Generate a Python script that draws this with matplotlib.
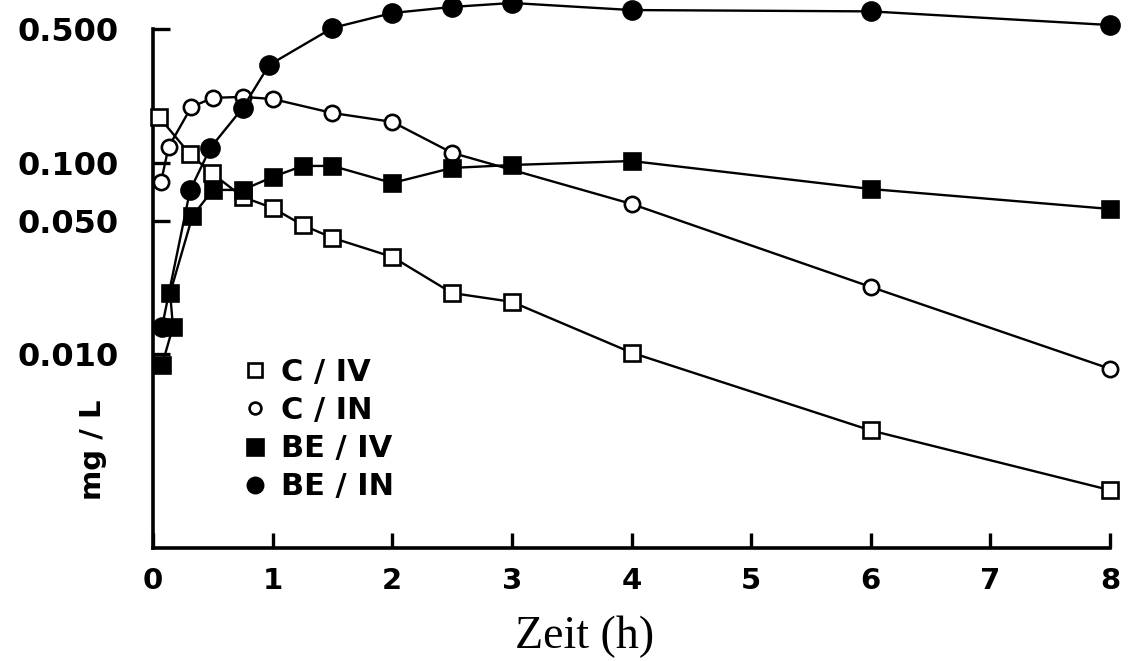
import matplotlib
matplotlib.use("Agg")
import matplotlib.pyplot as plt
from matplotlib.lines import Line2D
from matplotlib.ticker import NullLocator

# values (time in h, concentration in mg/L)
t_c_iv = [0.05, 0.31, 0.49, 0.75, 1.0, 1.25, 1.5, 2, 2.5, 3, 4, 6, 8]
c_iv = [0.174, 0.111, 0.0887, 0.0664, 0.0582, 0.0474, 0.0406, 0.0323,
        0.0209, 0.0188, 0.0102, 0.0040, 0.00195]

t_c_in = [0.067, 0.13, 0.32, 0.5, 0.75, 1.0, 1.5, 2, 2.5, 4, 6, 8]
c_in = [0.0796, 0.121, 0.196, 0.219, 0.2215, 0.216, 0.1825, 0.164,
        0.113, 0.0611, 0.0225, 0.0084]

t_be_iv = [0.075, 0.167, 0.143, 0.33, 0.5, 0.75, 1.0, 1.25, 1.5, 2, 2.5, 3, 4, 6, 8]
be_iv = [0.0088, 0.0139, 0.0209, 0.0528, 0.0723, 0.0723, 0.0845, 0.0965,
         0.0965, 0.0786, 0.0942, 0.0976, 0.1024, 0.0731, 0.0575]

t_be_in = [0.075, 0.31, 0.48, 0.75, 0.97, 1.5, 2, 2.5, 3, 4, 6, 8]
be_in = [0.0139, 0.072, 0.120, 0.194, 0.325, 0.508, 0.608, 0.654,
         0.686, 0.63, 0.62, 0.526]

labels = ["C / IV", "C / IN", "BE / IV", "BE / IN"]
x_ticks = [0, 1, 2, 3, 4, 5, 6, 7, 8]
y_ticks = [0.01, 0.05, 0.1, 0.5]
y_ticklabels = ["0.010", "0.050", "0.100", "0.500"]

fig = plt.figure(figsize=(11.28, 6.61), dpi=100)
ax = fig.add_axes([153 / 1128, 0.171, 969 / 1128, 0.829])

styles = [
    dict(marker="s", mfc="white", ms=11),
    dict(marker="o", mfc="white", ms=11),
    dict(marker="s", mfc="black", ms=11.5),
    dict(marker="o", mfc="black", ms=13),
]
series = [(t_c_iv, c_iv), (t_c_in, c_in), (t_be_iv, be_iv), (t_be_in, be_in)]
for (t, v), st in zip(series, styles):
    ax.plot(t, v, color="black", lw=1.7, mec="black", mew=1.9,
            clip_on=False, zorder=3, **st)

ax.set_yscale("log")
ax.set_xlim(0, 8.1)
ax.set_ylim(0.000972, 0.711)

for s in ["top", "right"]:
    ax.spines[s].set_visible(False)
ax.spines["left"].set_bounds(0.000972, 0.5)
ax.spines["bottom"].set_bounds(0, 8)
ax.spines["left"].set_linewidth(2.6)
ax.spines["bottom"].set_linewidth(2.6)

ax.set_yticks(y_ticks)
ax.set_yticklabels(y_ticklabels)
ax.yaxis.set_minor_locator(NullLocator())
ax.set_xticks(x_ticks)
ax.set_xticklabels([str(x) for x in x_ticks])

ax.tick_params(axis="y", direction="in", length=12, width=2.4, pad=25,
               labelsize=23)
ax.tick_params(axis="x", direction="in", length=11, width=2.4, pad=14,
               labelsize=21)
for lab in ax.get_xticklabels() + ax.get_yticklabels():
    lab.set_fontweight("bold")

# y label and x label placed like the scan
fig.text(93 / 1128, 1 - 450 / 661, "mg / L", rotation=90, fontsize=21,
         fontweight="bold", ha="center", va="center")
fig.text(585 / 1128, 1 - 637 / 661, "Zeit (h)", fontsize=33,
         family="Liberation Serif", ha="center", va="center")

legend_ms = [10, 8.5, 11.5, 11]
handles = [Line2D([], [], ls="none", color="black", mec="black", mew=1.9,
                  **dict(st, ms=m)) for st, m in zip(styles, legend_ms)]
ax.legend(handles, labels, loc="upper left",
          bbox_to_anchor=(243 / 1128, 1 - 358 / 661),
          bbox_transform=fig.transFigure, frameon=False, borderpad=0,
          borderaxespad=0, handlelength=0.8, handletextpad=0.45,
          labelspacing=0.3, prop=dict(size=22, weight="bold"))

fig.savefig("out.png", dpi=100)
